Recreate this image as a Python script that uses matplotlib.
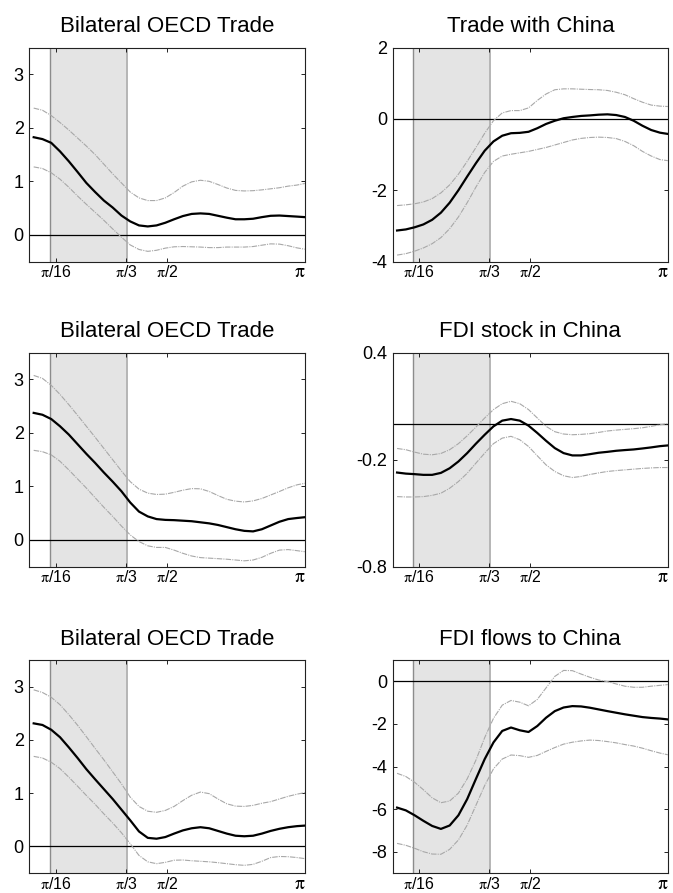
import numpy as np
import matplotlib
matplotlib.use('Agg')
import matplotlib.pyplot as plt

plt.rcParams['font.family'] = ['Liberation Sans', 'DejaVu Sans']
plt.rcParams['mathtext.fontset'] = 'stix'

# frequency grid (radians)
freq = [0.05, 0.15, 0.25, 0.35, 0.45, 0.55, 0.65, 0.75, 0.85, 0.95, 1.05,
        1.15, 1.25, 1.35, 1.45, 1.55, 1.65, 1.75, 1.85, 1.95, 2.05, 2.15,
        2.25, 2.35, 2.45, 2.55, 2.65, 2.75, 2.85, 2.95, 3.05, 3.14]

band_edges = [0.2356, 1.109]
xtick_pos = [0.30, 1.10, np.pi / 2, np.pi]
xtick_labels = [r'$\mathrm{\pi}$/16', r'$\mathrm{\pi}$/3', r'$\mathrm{\pi}$/2', r'$\mathrm{\pi}$']

titles = ['Bilateral OECD Trade', 'Trade with China',
          'Bilateral OECD Trade', 'FDI stock in China',
          'Bilateral OECD Trade', 'FDI flows to China']

ylims = [(-0.5, 3.5), (-4, 2), (-0.5, 3.5), (-0.8, 0.4), (-0.5, 3.5), (-9, 1)]
yticks = [[0, 1, 2, 3], [-4, -2, 0, 2], [0, 1, 2, 3], [-0.8, -0.2, 0.4],
          [0, 1, 2, 3], [-8, -6, -4, -2, 0]]
yticklabels = [['0', '1', '2', '3'], ['-4', '-2', '0', '2'], ['0', '1', '2', '3'],
               ['-0.8', '-0.2', '0.4'], ['0', '1', '2', '3'],
               ['-8', '-6', '-4', '-2', '0']]

# Panel 1: Bilateral OECD Trade
p1_mean = [1.825, 1.79, 1.72, 1.56, 1.375, 1.175, 0.97, 0.80, 0.64, 0.51, 0.36,
           0.25, 0.175, 0.156, 0.175, 0.225, 0.29, 0.35, 0.39, 0.40, 0.39, 0.355,
           0.32, 0.29, 0.29, 0.30, 0.33, 0.355, 0.36, 0.35, 0.34, 0.33]
p1_upper = [2.37, 2.33, 2.23, 2.10, 1.96, 1.81, 1.66, 1.50, 1.32, 1.14, 0.97,
            0.80, 0.69, 0.64, 0.64, 0.69, 0.79, 0.91, 0.99, 1.02, 1.00, 0.94,
            0.875, 0.83, 0.82, 0.825, 0.84, 0.86, 0.88, 0.91, 0.93, 0.96]
p1_lower = [1.27, 1.24, 1.16, 1.04, 0.89, 0.725, 0.57, 0.42, 0.27, 0.11, -0.045,
            -0.19, -0.275, -0.31, -0.29, -0.25, -0.225, -0.22, -0.225, -0.23, -0.24, -0.24,
            -0.23, -0.23, -0.23, -0.22, -0.195, -0.17, -0.175, -0.205, -0.245, -0.27]

# Panel 2: Trade with China
p2_mean = [-3.13, -3.10, -3.04, -2.96, -2.83, -2.63, -2.35, -2.00, -1.615, -1.24, -0.89,
           -0.63, -0.47, -0.40, -0.39, -0.36, -0.26, -0.14, -0.05, 0.02, 0.056, 0.085,
           0.10, 0.12, 0.13, 0.11, 0.056, -0.05, -0.19, -0.31, -0.385, -0.42]
p2_upper = [-2.43, -2.41, -2.38, -2.33, -2.235, -2.075, -1.85, -1.55, -1.19, -0.80, -0.40,
            -0.047, 0.17, 0.235, 0.235, 0.31, 0.52, 0.70, 0.82, 0.845, 0.845, 0.835,
            0.826, 0.82, 0.80, 0.75, 0.68, 0.57, 0.47, 0.39, 0.36, 0.35]
p2_lower = [-3.82, -3.78, -3.71, -3.62, -3.50, -3.33, -3.08, -2.75, -2.35, -1.91, -1.50,
            -1.19, -1.04, -0.99, -0.95, -0.91, -0.855, -0.80, -0.73, -0.66, -0.59, -0.545,
            -0.52, -0.51, -0.52, -0.55, -0.63, -0.75, -0.91, -1.04, -1.14, -1.17]

# Panel 3: Bilateral OECD Trade
p3_mean = [2.375, 2.34, 2.26, 2.125, 1.97, 1.79, 1.61, 1.44, 1.26, 1.09, 0.91,
           0.70, 0.53, 0.44, 0.39, 0.375, 0.37, 0.36, 0.35, 0.33, 0.31, 0.28,
           0.24, 0.20, 0.17, 0.16, 0.20, 0.27, 0.34, 0.39, 0.41, 0.425]
p3_upper = [3.075, 3.02, 2.89, 2.72, 2.53, 2.33, 2.125, 1.92, 1.71, 1.50, 1.29,
            1.09, 0.95, 0.875, 0.85, 0.856, 0.89, 0.93, 0.96, 0.956, 0.906, 0.83,
            0.76, 0.725, 0.71, 0.73, 0.775, 0.84, 0.906, 0.975, 1.03, 1.06]
p3_lower = [1.675, 1.65, 1.59, 1.47, 1.31, 1.14, 0.97, 0.79, 0.61, 0.44, 0.26,
            0.094, -0.03, -0.11, -0.14, -0.14, -0.19, -0.25, -0.30, -0.33, -0.34, -0.35,
            -0.36, -0.375, -0.39, -0.375, -0.325, -0.25, -0.19, -0.18, -0.20, -0.22]

# Panel 4: FDI stock in China
p4_mean = [-0.272, -0.278, -0.281, -0.285, -0.285, -0.274, -0.248, -0.21, -0.163, -0.11, -0.06,
           -0.013, 0.019, 0.028, 0.019, -0.009, -0.05, -0.094, -0.135, -0.163, -0.176, -0.176,
           -0.169, -0.161, -0.156, -0.15, -0.146, -0.1425, -0.137, -0.131, -0.124, -0.12]
p4_upper = [-0.137, -0.144, -0.1575, -0.169, -0.1725, -0.165, -0.144, -0.11, -0.066, -0.017, 0.034,
            0.081, 0.114, 0.1275, 0.114, 0.081, 0.034, -0.013, -0.043, -0.056, -0.06, -0.058,
            -0.054, -0.047, -0.039, -0.034, -0.03, -0.026, -0.021, -0.013, -0.004, 0.002]
p4_lower = [-0.407, -0.409, -0.409, -0.407, -0.40, -0.388, -0.36, -0.3225, -0.276, -0.219, -0.163,
            -0.11, -0.079, -0.069, -0.088, -0.126, -0.178, -0.229, -0.266, -0.29, -0.30, -0.294,
            -0.283, -0.274, -0.266, -0.261, -0.257, -0.253, -0.249, -0.246, -0.244, -0.244]

# Panel 5: Bilateral OECD Trade
p5_mean = [2.31, 2.28, 2.19, 2.05, 1.86, 1.66, 1.45, 1.26, 1.075, 0.89, 0.69,
           0.49, 0.28, 0.16, 0.144, 0.175, 0.24, 0.30, 0.34, 0.36, 0.34, 0.29,
           0.24, 0.20, 0.19, 0.20, 0.24, 0.29, 0.33, 0.36, 0.38, 0.39]
p5_upper = [2.94, 2.89, 2.80, 2.66, 2.475, 2.275, 2.06, 1.84, 1.625, 1.40, 1.175,
            0.925, 0.75, 0.66, 0.64, 0.675, 0.75, 0.86, 0.96, 1.02, 0.99, 0.89,
            0.80, 0.756, 0.75, 0.77, 0.81, 0.84, 0.89, 0.94, 0.98, 1.01]
p5_lower = [1.69, 1.66, 1.58, 1.46, 1.30, 1.13, 0.956, 0.79, 0.61, 0.44, 0.256,
            0.05, -0.17, -0.29, -0.325, -0.30, -0.26, -0.256, -0.27, -0.28, -0.29, -0.306,
            -0.325, -0.344, -0.356, -0.3375, -0.28, -0.21, -0.19, -0.194, -0.21, -0.23]

# Panel 6: FDI flows to China
p6_mean = [-5.93, -6.06, -6.29, -6.55, -6.79, -6.93, -6.77, -6.29, -5.53, -4.58, -3.65,
           -2.87, -2.33, -2.17, -2.30, -2.38, -2.10, -1.71, -1.40, -1.23, -1.165, -1.18,
           -1.24, -1.32, -1.40, -1.475, -1.55, -1.615, -1.68, -1.72, -1.75, -1.79]
p6_upper = [-4.32, -4.47, -4.74, -5.09, -5.47, -5.70, -5.62, -5.25, -4.58, -3.70, -2.64,
            -1.74, -1.12, -0.90, -0.98, -1.15, -0.85, -0.31, 0.23, 0.51, 0.50, 0.34,
            0.19, 0.06, -0.016, -0.124, -0.23, -0.28, -0.28, -0.23, -0.19, -0.155]
p6_lower = [-7.61, -7.70, -7.84, -8.00, -8.11, -8.12, -7.89, -7.45, -6.75, -5.82, -4.89,
            -4.11, -3.65, -3.46, -3.49, -3.57, -3.48, -3.29, -3.11, -2.95, -2.86, -2.80,
            -2.76, -2.78, -2.83, -2.89, -2.97, -3.04, -3.14, -3.26, -3.37, -3.45]

means = [p1_mean, p2_mean, p3_mean, p4_mean, p5_mean, p6_mean]
uppers = [p1_upper, p2_upper, p3_upper, p4_upper, p5_upper, p6_upper]
lowers = [p1_lower, p2_lower, p3_lower, p4_lower, p5_lower, p6_lower]

W, H = 673, 893
fig = plt.figure(figsize=(W / 100, H / 100), dpi=100)

col_x = [(29.3, 305.0), (392.7, 668.0)]
row_y = [(47.7, 261.5), (352.7, 566.7), (660.0, 873.0)]
band_style = dict(color='#a8a8a8', lw=0.8, linestyle=(0, (5, 1, 1, 1)), zorder=3)

for i in range(6):
    r, c = divmod(i, 2)
    x0, x1 = col_x[c]
    yt, yb = row_y[r]
    ax = fig.add_axes([x0 / W, 1 - yb / H, (x1 - x0) / W, (yb - yt) / H])
    ax.axvspan(band_edges[0], band_edges[1], color='#e4e4e4', lw=0, zorder=0)
    ax.axvline(band_edges[0], color='#8c8c8c', lw=1.0, zorder=1)
    ax.axvline(band_edges[1], color='#b5b5b5', lw=1.4, zorder=1)
    ax.axhline(0, color='black', lw=0.9, zorder=2)
    ax.plot(freq, uppers[i], **band_style)
    ax.plot(freq, lowers[i], **band_style)
    ax.plot(freq, means[i], color='black', lw=1.6, zorder=4,
            solid_joinstyle='round')
    ax.set_xlim(0, np.pi)
    ax.set_ylim(*ylims[i])
    ax.set_yticks(yticks[i])
    ax.set_yticklabels(yticklabels[i], fontsize=13)
    ax.set_xticks(xtick_pos)
    labs = ax.set_xticklabels(xtick_labels, fontsize=11.5)
    labs[-1].set_fontsize(14)
    labs[-1].set_horizontalalignment('right')
    ax.tick_params(direction='in', top=True, right=True, length=3, width=0.6,
                   colors='black')
    ax.tick_params(axis='y', pad=4)
    ax.tick_params(axis='x', pad=2)
    for s in ax.spines.values():
        s.set_linewidth(0.8)
        s.set_color('#222222')
    ax.set_title(titles[i], fontsize=16, pad=11)

fig.savefig('out.png', dpi=100)
